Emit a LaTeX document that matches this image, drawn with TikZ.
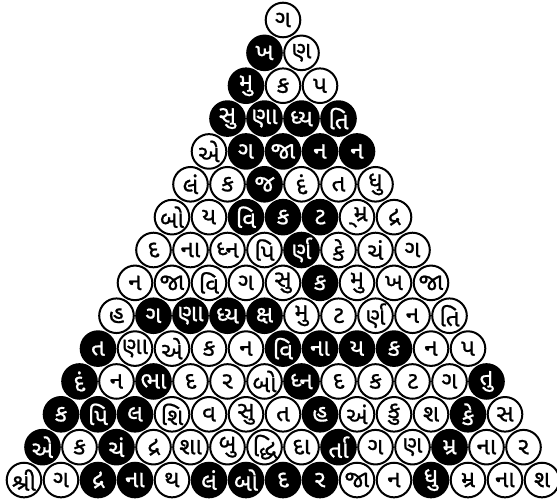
\documentclass[tikz,border=0pt]{standalone}
\usepackage{fontspec}
\newfontfamily\gujfont[Script=Gujarati, FakeBold=0.8]{Noto Sans Gujarati UI}
\tikzset{
  disc/.style={circle, draw=black, line width=2pt, minimum size=34.6pt, inner sep=0pt,
    font=\gujfont\fontsize{24}{24}\selectfont},
  wc/.style={disc, fill=white, text=black},
  bc/.style={disc, fill=black, text=white}
}
% one row of the triangle: #1 = row number, #2 = list of style/letter
\newcommand{\discrow}[2]{%
  \foreach [count=\k] \clr/\lbl in {#2}
    \node[\clr] (d#1-\k) at ({283+(\k-(#1+1)/2)*37}, {20+(#1-1)*32.86}) {\lbl};}

\begin{document}
\begin{tikzpicture}[x=1pt, y=-1pt]
\useasboundingbox (0,0) rectangle (557,502);
\discrow{1}{wc/ગ}
\discrow{2}{bc/ખ, wc/ણ}
\discrow{3}{bc/મુ, wc/ક, wc/પ}
\discrow{4}{bc/સુ, bc/ણા, bc/ધ્ય, bc/તિ}
\discrow{5}{wc/એ, bc/ગ, bc/જા, bc/ન, bc/ન}
\discrow{6}{wc/લં, wc/ક, bc/જ, wc/દં, wc/ત, wc/ધુ}
\discrow{7}{wc/બો, wc/ય, bc/વિ, bc/ક, bc/ટ, wc/\char"A0્મ્ર, wc/દ્ર}
\discrow{8}{wc/દ, wc/ના, wc/ધ્ન, wc/પિ, bc/ર્ણ, wc/કે, wc/ચં, wc/ગ}
\discrow{9}{wc/ન, wc/જા, wc/વિ, wc/ગ, wc/સુ, bc/ક, wc/મુ, wc/ખ, wc/જા}
\discrow{10}{wc/હ, bc/ગ, bc/ણા, bc/ધ્ય, bc/ક્ષ, wc/મુ, wc/ટ, wc/ર્ણ, wc/ન, wc/તિ}
\discrow{11}{bc/ત, wc/ણા, wc/એ, wc/ક, wc/ન, bc/વિ, bc/ના, bc/ય, bc/ક, wc/ન, wc/પ}
\discrow{12}{bc/દં, wc/ન, bc/ભા, wc/દ, wc/ર, wc/બો, bc/ધ્ન, wc/દ, wc/ક, wc/ટ, wc/ગ, bc/તુ}
\discrow{13}{bc/ક, bc/પિ, bc/લ, wc/શિ, wc/વ, wc/સુ, wc/ત, bc/હ, wc/અં, wc/કુ, wc/શ, bc/કે, wc/સ}
\discrow{14}{bc/એ, wc/ક, bc/ચં, wc/દ્ર, wc/શા, wc/બુ, wc/દ્ધિ, wc/દા, bc/ર્તા, wc/ગ, wc/ણ, bc/મ્ર, wc/ના, wc/ર}
\discrow{15}{wc/શ્રી, wc/ગ, bc/દ્ર, bc/ના, wc/થ, bc/લં, bc/બો, bc/દ, bc/ર, wc/જા, wc/ન, bc/ધુ, wc/મ્ર, wc/ના, wc/શ}
\end{tikzpicture}
\end{document}
